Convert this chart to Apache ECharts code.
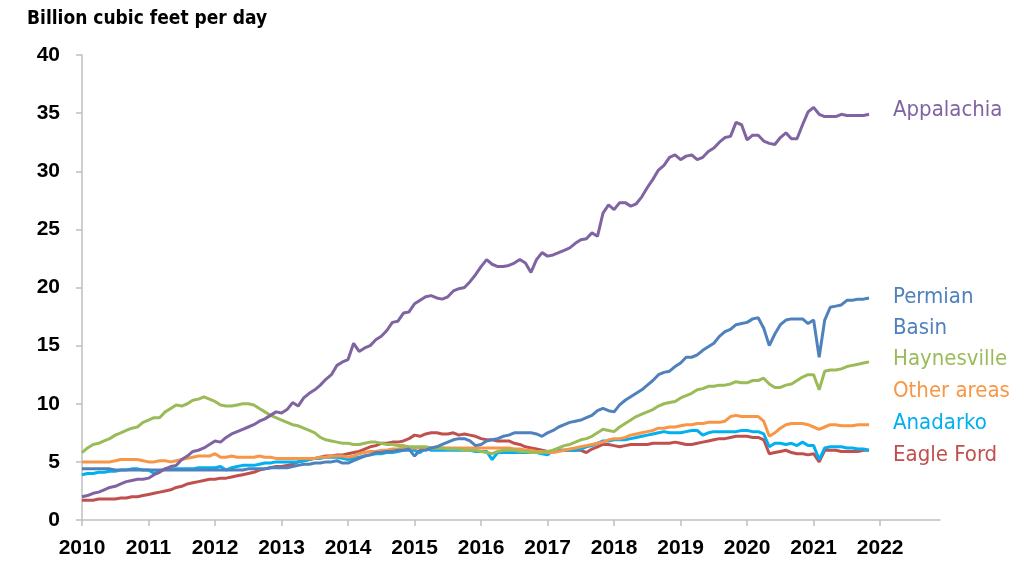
<!DOCTYPE html>
<html><head><meta charset="utf-8">
<script src="https://cdn.jsdelivr.net/npm/echarts@6/dist/echarts.min.js"></script>
<style>html,body{margin:0;padding:0;background:#fff}#c{width:1024px;height:578px}</style>
</head><body><div id="c"></div>
<script>
// Monthly values, Jan 2010 – Nov 2021 (billion cubic feet per day)
const startYear = 2010;
const yearTicks = [2010,2011,2012,2013,2014,2015,2016,2017,2018,2019,2020,2021,2022];
const yTicks = [0,5,10,15,20,25,30,35,40];
const appalachia = [
 2.0,2.1,2.3,2.4,2.6,2.8,2.9,3.1,3.3,3.4,3.5,3.5,
 3.6,3.9,4.1,4.4,4.6,4.7,5.2,5.5,5.9,6.0,6.2,6.5,
 6.8,6.7,7.1,7.4,7.6,7.8,8.0,8.2,8.5,8.7,9.0,9.3,
 9.2,9.5,10.1,9.8,10.5,10.9,11.2,11.6,12.1,12.5,13.3,13.6,
 13.8,15.2,14.5,14.8,15.0,15.5,15.8,16.3,17.0,17.1,17.8,17.9,
 18.6,18.9,19.2,19.3,19.1,19.0,19.2,19.7,19.9,20.0,20.5,21.1,
 21.8,22.4,22.0,21.8,21.8,21.9,22.1,22.4,22.1,21.3,22.4,23.0,
 22.7,22.8,23.0,23.2,23.4,23.8,24.1,24.2,24.7,24.4,26.4,27.1,
 26.7,27.3,27.3,27.0,27.2,27.8,28.6,29.3,30.1,30.5,31.2,31.4,
 31.0,31.3,31.4,31.0,31.2,31.7,32.0,32.5,32.9,33.0,34.2,34.0,
 32.7,33.1,33.1,32.6,32.4,32.3,32.9,33.3,32.8,32.8,34.0,35.1,
 35.5,34.9,34.7,34.7,34.7,34.9,34.8,34.8,34.8,34.8,34.9];
const permian = [
 4.4,4.4,4.4,4.4,4.4,4.4,4.3,4.3,4.3,4.3,4.3,4.3,
 4.3,4.3,4.3,4.3,4.3,4.3,4.3,4.3,4.3,4.3,4.3,4.3,
 4.3,4.3,4.3,4.3,4.3,4.3,4.4,4.4,4.4,4.4,4.5,4.5,
 4.5,4.5,4.6,4.7,4.8,4.8,4.9,4.9,5.0,5.0,5.1,4.9,
 4.9,5.1,5.3,5.5,5.6,5.8,5.8,5.9,5.9,6.0,6.0,6.1,
 5.5,6.0,6.0,6.2,6.3,6.5,6.7,6.9,7.0,7.0,6.8,6.4,
 6.5,6.8,6.9,7.0,7.2,7.3,7.5,7.5,7.5,7.5,7.4,7.2,
 7.5,7.7,8.0,8.2,8.4,8.5,8.6,8.8,9.0,9.4,9.6,9.4,
 9.3,9.9,10.3,10.6,10.9,11.2,11.6,12.0,12.5,12.7,12.8,13.2,
 13.5,14.0,14.0,14.2,14.6,14.9,15.2,15.8,16.2,16.4,16.8,16.9,
 17.0,17.3,17.4,16.5,15.0,16.0,16.8,17.2,17.3,17.3,17.3,16.9,
 17.2,14.0,17.2,18.3,18.4,18.5,18.9,18.9,19.0,19.0,19.1];
const haynesville = [
 5.8,6.2,6.5,6.6,6.8,7.0,7.3,7.5,7.7,7.9,8.0,8.4,
 8.6,8.8,8.8,9.3,9.6,9.9,9.8,10.0,10.3,10.4,10.6,10.4,
 10.2,9.9,9.8,9.8,9.9,10.0,10.0,9.9,9.6,9.3,9.0,8.8,
 8.6,8.4,8.2,8.1,7.9,7.7,7.5,7.1,6.9,6.8,6.7,6.6,
 6.6,6.5,6.5,6.6,6.7,6.7,6.6,6.5,6.5,6.4,6.4,6.3,
 6.3,6.3,6.3,6.2,6.2,6.2,6.1,6.1,6.1,6.0,6.0,6.0,
 5.9,5.8,5.7,5.9,6.0,6.0,6.0,5.9,5.9,5.8,5.8,5.8,
 5.9,6.0,6.2,6.4,6.5,6.7,6.9,7.0,7.2,7.5,7.8,7.7,
 7.6,8.0,8.3,8.6,8.9,9.1,9.3,9.5,9.8,10.0,10.1,10.2,
 10.5,10.7,10.9,11.2,11.3,11.5,11.5,11.6,11.6,11.7,11.9,11.8,
 11.8,12.0,12.0,12.2,11.7,11.4,11.4,11.6,11.7,12.0,12.3,12.5,
 12.5,11.2,12.8,12.9,12.9,13.0,13.2,13.3,13.4,13.5,13.6];
const otherAreas = [
 5.0,5.0,5.0,5.0,5.0,5.0,5.1,5.2,5.2,5.2,5.2,5.1,
 5.0,5.0,5.1,5.1,5.0,5.1,5.2,5.3,5.4,5.5,5.5,5.5,
 5.7,5.4,5.4,5.5,5.4,5.4,5.4,5.4,5.5,5.4,5.4,5.3,
 5.3,5.3,5.3,5.3,5.3,5.3,5.3,5.4,5.4,5.5,5.5,5.5,
 5.4,5.5,5.7,5.8,5.9,5.9,6.0,6.0,6.1,6.1,6.2,6.2,
 6.2,6.2,6.2,6.2,6.2,6.2,6.2,6.2,6.2,6.2,6.2,6.2,
 6.2,6.2,6.2,6.2,6.2,6.2,6.1,6.1,6.0,6.0,5.9,5.9,
 5.8,5.8,5.9,6.0,6.1,6.2,6.3,6.4,6.5,6.6,6.7,6.9,
 7.0,7.0,7.1,7.3,7.4,7.5,7.6,7.7,7.9,7.9,8.0,8.0,
 8.1,8.2,8.2,8.3,8.3,8.4,8.4,8.4,8.5,8.9,9.0,8.9,
 8.9,8.9,8.9,8.5,7.2,7.5,7.9,8.2,8.3,8.3,8.3,8.2,
 8.0,7.8,8.0,8.2,8.2,8.1,8.1,8.1,8.2,8.2,8.2];
const anadarko = [
 3.9,4.0,4.0,4.1,4.1,4.2,4.2,4.3,4.3,4.4,4.4,4.3,
 4.3,4.0,4.2,4.4,4.4,4.4,4.4,4.4,4.4,4.5,4.5,4.5,
 4.5,4.6,4.3,4.5,4.6,4.7,4.7,4.7,4.8,4.9,4.9,5.0,
 5.0,5.0,5.0,5.0,5.1,5.2,5.3,5.3,5.4,5.4,5.4,5.3,
 5.2,5.3,5.4,5.5,5.6,5.7,5.7,5.8,5.8,5.9,6.0,6.0,
 6.0,5.8,6.2,6.0,6.0,6.0,6.0,6.0,6.0,6.0,6.0,5.9,
 5.9,5.9,5.2,5.8,5.8,5.8,5.8,5.8,5.8,5.8,5.8,5.7,
 5.6,6.0,6.0,6.0,6.0,6.0,6.1,6.3,6.4,6.6,6.8,6.8,
 6.9,6.9,6.9,7.0,7.1,7.2,7.3,7.4,7.5,7.6,7.5,7.5,
 7.5,7.6,7.7,7.7,7.3,7.5,7.6,7.6,7.6,7.6,7.6,7.7,
 7.7,7.6,7.6,7.4,6.3,6.6,6.6,6.5,6.6,6.4,6.7,6.4,
 6.4,5.2,6.2,6.3,6.3,6.3,6.2,6.2,6.1,6.1,6.0];
const eagleFord = [
 1.7,1.7,1.7,1.8,1.8,1.8,1.8,1.9,1.9,2.0,2.0,2.1,
 2.2,2.3,2.4,2.5,2.6,2.8,2.9,3.1,3.2,3.3,3.4,3.5,
 3.5,3.6,3.6,3.7,3.8,3.9,4.0,4.1,4.3,4.4,4.5,4.6,
 4.6,4.7,4.8,5.0,5.1,5.2,5.3,5.4,5.5,5.5,5.6,5.6,
 5.7,5.8,5.9,6.1,6.3,6.4,6.6,6.6,6.7,6.7,6.8,7.0,
 7.3,7.2,7.4,7.5,7.5,7.4,7.4,7.5,7.3,7.4,7.3,7.2,
 7.0,6.9,6.9,6.8,6.8,6.8,6.6,6.5,6.3,6.2,6.1,6.0,
 5.9,5.9,6.0,6.0,6.0,6.0,6.0,5.8,6.1,6.3,6.5,6.5,
 6.4,6.3,6.4,6.5,6.5,6.5,6.5,6.6,6.6,6.6,6.6,6.7,
 6.6,6.5,6.5,6.6,6.7,6.8,6.9,7.0,7.0,7.1,7.2,7.2,
 7.2,7.1,7.1,6.9,5.7,5.8,5.9,6.0,5.8,5.7,5.7,5.6,
 5.7,5.0,6.0,6.0,6.0,5.9,5.9,5.9,5.9,6.0,6.0];

const seriesNames = ['Appalachia','Permian Basin','Haynesville','Other areas','Anadarko','Eagle Ford'];
const seriesValues = [appalachia, permian, haynesville, otherAreas, anadarko, eagleFord];
const colors = ['#8064A2','#4F81BD','#9BBB59','#F79646','#00B0F0','#C0504D'];

function toPairs(arr){ return arr.map((v,i)=>[startYear + i/12, v]); }

const chart = echarts.init(document.getElementById('c'), null, {renderer:'canvas'});
const labelFont = '"DejaVu Sans Condensed","Liberation Sans",sans-serif';
const numFont = '"Liberation Sans","Noto Sans",sans-serif';

const endLabels = [
  {text:'Appalachia', x:893, y:110, c:colors[0]},
  {text:'Permian', x:893, y:297, c:colors[1]},
  {text:'Basin', x:893, y:328, c:colors[1]},
  {text:'Haynesville', x:893, y:359, c:colors[2]},
  {text:'Other areas', x:893, y:391, c:colors[3]},
  {text:'Anadarko', x:893, y:423, c:colors[4]},
  {text:'Eagle Ford', x:893, y:455, c:colors[5]}
];

chart.setOption({
  animation:false,
  backgroundColor:'#fff',
  grid:{left:82, right:84, top:55, bottom:58},
  xAxis:{
    type:'value', min:2010, max:2022.9, interval:1,
    axisLine:{show:true, lineStyle:{color:'#BFBFBF', width:1.5}},
    axisTick:{show:true, length:6, lineStyle:{color:'#BFBFBF', width:1.5}, customValues:yearTicks},
    axisLabel:{customValues:yearTicks, formatter:v=>String(Math.round(v)), margin:18,
      fontFamily:numFont, fontWeight:'bold', fontSize:21, color:'#000'},
    splitLine:{show:false}
  },
  yAxis:{
    type:'value', min:0, max:40, interval:5,
    axisLine:{show:true, lineStyle:{color:'#BFBFBF', width:1.5}},
    axisTick:{show:true, length:6, lineStyle:{color:'#BFBFBF', width:1.5}},
    axisLabel:{margin:22, fontFamily:numFont, fontWeight:'bold', fontSize:21, color:'#000'},
    splitLine:{show:false}
  },
  series: seriesNames.map((n,i)=>({
    name:n, type:'line', data:toPairs(seriesValues[i]), showSymbol:false, symbol:'none',
    lineStyle:{color:colors[i], width:3}, itemStyle:{color:colors[i]}, z: 10-i
  })),
  graphic:[
    {type:'text', left:27, top:10, style:{text:'Billion cubic feet per day', fill:'#000',
      font:'bold 19px '+labelFont}}
  ].concat(endLabels.map(l=>({type:'text', x:l.x, y:l.y, style:{text:l.text, fill:l.c,
      font:'22px '+labelFont, verticalAlign:'middle', textAlign:'left'}})))
});
</script></body></html>
